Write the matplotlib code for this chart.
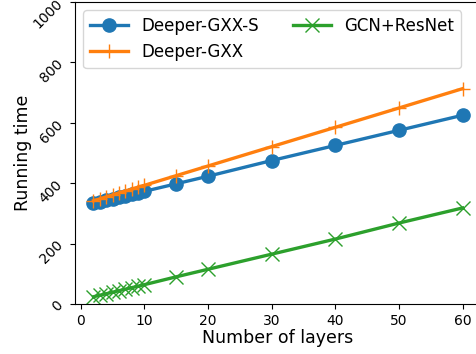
import matplotlib
matplotlib.use('Agg')
import matplotlib.pyplot as plt

layers = [2, 3, 4, 5, 6, 7, 8, 9, 10, 15, 20, 30, 40, 50, 60]
time_gxx_s = [333, 338, 343, 348, 353, 358, 363, 368, 373, 398, 423, 475, 525, 575, 625]
time_gxx = [342, 348, 355, 361, 368, 374, 380, 387, 393, 425, 457, 521, 585, 649, 713]
time_resnet = [24, 29, 34, 39, 44, 49, 54, 59, 64, 90, 115, 165, 215, 268, 318]

W, H = 476, 354
fig = plt.figure(figsize=(W / 100, H / 100), dpi=100)
# axes extends a bit past the right edge of the figure
ax = fig.add_axes([75 / W, 50 / H, 406 / W, 302 / H])

ax.plot(layers, time_gxx_s, marker='o', markersize=9.5, linewidth=2.4,
        color='#1f77b4', label='Deeper-GXX-S')
ax.plot(layers, time_gxx, marker='+', markersize=9.5, linewidth=2.4,
        color='#ff7f0e', label='Deeper-GXX')
ax.plot(layers, time_resnet, marker='x', markersize=9.5, linewidth=2.4,
        color='#2ca02c', label='GCN+ResNet')

ax.set_ylim(0, 1000)
ax.set_xticks([0, 10, 20, 30, 40, 50, 60])
ax.set_yticks([0, 200, 400, 600, 800, 1000])
ax.tick_params(axis='both', labelsize=10)
plt.setp(ax.get_yticklabels(), rotation=45)
ax.set_xlabel('Number of layers', fontsize=12.5, labelpad=1)
ax.set_ylabel('Running time', fontsize=12.5, labelpad=-1)
ax.legend(ncol=2, fontsize=12, loc='upper left', handlelength=2.3)

fig.savefig('out.png', dpi=100)
